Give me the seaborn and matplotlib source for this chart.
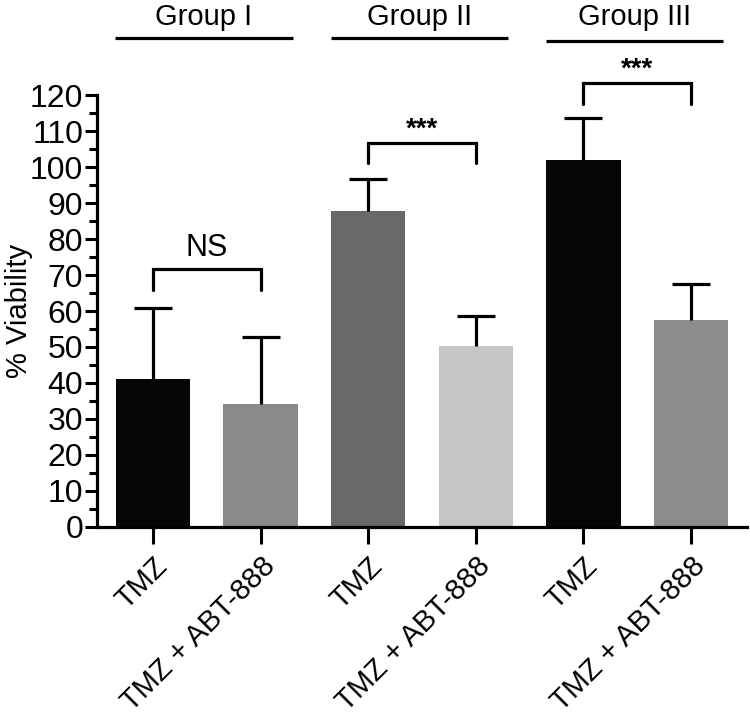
import matplotlib
matplotlib.use("Agg")
import matplotlib.pyplot as plt
import seaborn as sns
import pandas as pd
import numpy as np

# ---- data ----
conditions = ["G1_TMZ", "G1_TMZ_ABT", "G2_TMZ", "G2_TMZ_ABT", "G3_TMZ", "G3_TMZ_ABT"]
tick_labels = ["TMZ", "TMZ + ABT-888", "TMZ", "TMZ + ABT-888", "TMZ", "TMZ + ABT-888"]
viability = [41.1, 34.2, 87.8, 50.3, 102.0, 57.5]
error_upper = [19.7, 18.6, 8.9, 8.3, 11.6, 10.0]
bar_colors = ["#050505", "#8a8a8a", "#686868", "#c6c6c6", "#050505", "#8c8c8c"]
groups = ["Group I", "Group II", "Group III"]
sig_labels = ["NS", "***", "***"]

sns.set_theme(style="white")
plt.rcParams["font.family"] = ["Liberation Sans", "DejaVu Sans"]

df = pd.DataFrame({"cond": conditions, "viability": viability})

fig = plt.figure(figsize=(7.5, 7.21), dpi=100)
ax = fig.add_axes([0.1293, 0.2691, 0.996 - 0.1293, 0.8682 - 0.2691])

sns.barplot(data=df, x="cond", y="viability", hue="cond", order=conditions,
            hue_order=conditions, palette=bar_colors, dodge=False,
            legend=False, errorbar=None, width=0.69, ax=ax,
            saturation=1.0, linewidth=0)

xpos = np.arange(len(conditions))
eb = ax.errorbar(xpos, viability, yerr=[np.zeros(len(viability)), error_upper],
                 fmt="none", ecolor="black", elinewidth=2.3, capsize=13.7,
                 capthick=2.3, zorder=5)
# hide the lower caps (only upper error shown)
eb[1][0].set_visible(False)

ax.set_xlim(-0.52, 5.52)
ax.set_ylim(0, 120)
ax.set_yticks(np.arange(0, 121, 10))
ax.set_yticks(np.arange(0, 121, 5), minor=True)
ax.set_yticklabels([str(v) for v in range(0, 121, 10)], fontsize=23)
ax.set_xticks(xpos)
ax.set_xticklabels(tick_labels, rotation=45, ha="right", rotation_mode="anchor",
                   fontsize=21)
ax.tick_params(axis="y", which="major", left=True, length=9, width=2.2, pad=1,
               color="black", labelcolor="black")
ax.tick_params(axis="y", which="minor", left=True, length=6, width=2.2,
               color="black")
ax.tick_params(axis="x", which="major", bottom=True, length=12, width=2.2,
               pad=6, color="black", labelcolor="black")
ax.set_xlabel("")
ax.set_ylabel("% Viability", fontsize=21, color="black")
ax.yaxis.set_label_coords(-0.098, 0.5)

for s in ["top", "right"]:
    ax.spines[s].set_visible(False)
for s in ["left", "bottom"]:
    ax.spines[s].set_color("black")
    ax.spines[s].set_linewidth(2.3)

# significance brackets
bracket_top = [71.6, 106.7, 123.3]
bracket_leg = [65.8, 101.0, 117.5]
sig_y = [77.5, 110.5, 127.0]
sig_size = [22, 20, 20]
sig_weight = ["normal", "bold", "bold"]
for g in range(3):
    x0, x1 = 2 * g, 2 * g + 1
    ax.plot([x0, x0, x1, x1], [bracket_leg[g], bracket_top[g], bracket_top[g], bracket_leg[g]],
            color="black", lw=2.3, clip_on=False, solid_joinstyle="miter")
    ax.text((x0 + x1) / 2, sig_y[g], sig_labels[g], ha="center", va="center",
            fontsize=sig_size[g], fontweight=sig_weight[g], color="black",
            clip_on=False)

# group headers
line_y = [135.8, 135.8, 135.0]
for g in range(3):
    x0, x1 = 2 * g - 0.35, 2 * g + 1 + 0.3
    ax.plot([x0, x1], [line_y[g], line_y[g]], color="black", lw=2.3,
            clip_on=False, solid_capstyle="butt")
    ax.text((x0 + x1) / 2, 141.6, groups[g], ha="center", va="center",
            fontsize=21, color="black", clip_on=False)

fig.savefig("out.png", dpi=100)
